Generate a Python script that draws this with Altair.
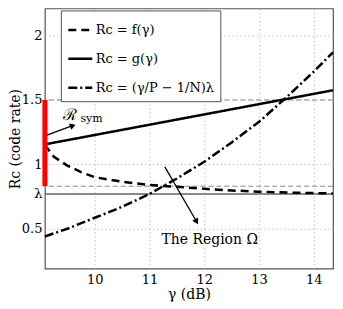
import altair as alt
import pandas as pd

# ---- data ----
series = ["Rc = f(γ)", "Rc = g(γ)", "Rc = (γ/P − 1/N)λ"]

gamma_f = [9.09, 9.25, 9.5, 9.75, 10.0, 10.5, 11.0, 11.5, 12.0, 12.5, 13.0, 13.5, 14.0, 14.35]
rc_f = [1.15, 1.06, 0.99, 0.94, 0.90, 0.865, 0.84, 0.825, 0.81, 0.797, 0.788, 0.781, 0.777, 0.774]

gamma_g = [9.09, 14.35]
rc_g = [1.155, 1.575]

gamma_h = [9.09, 9.5, 10.0, 10.5, 11.0, 11.5, 12.0, 12.5, 13.0, 13.5, 14.0, 14.35]
rc_h = [0.44, 0.50, 0.585, 0.67, 0.77, 0.89, 1.02, 1.17, 1.33, 1.52, 1.72, 1.87]

lam = 0.77
rsym_low = 0.83
rsym_high = 1.5

x_ticks = [10, 11, 12, 13, 14]
y_ticks = [0.5, lam, 1, 1.5, 2]

# annotations (data coordinates)
arrow_id = ["sym", "sym", "omega", "omega"]
arrow_x = [9.13, 9.58, 11.28, 11.84]
arrow_y = [1.226, 1.298, 0.98, 0.57]
head_x = [9.6, 11.86]
head_y = [1.30, 0.555]
head_angle = [69, 150]

FONT = "DejaVu Serif"

curves = pd.concat([
    pd.DataFrame({"gamma": gamma_f, "rc": rc_f, "series": series[0]}),
    pd.DataFrame({"gamma": gamma_g, "rc": rc_g, "series": series[1]}),
    pd.DataFrame({"gamma": gamma_h, "rc": rc_h, "series": series[2]}),
])

xs = alt.Scale(domain=[9.09, 14.35], nice=False, zero=False)
ys = alt.Scale(domain=[0.19, 2.21], nice=False, zero=False)

X = alt.X("gamma:Q", scale=xs, title="γ (dB)",
          axis=alt.Axis(values=x_ticks, format="d", grid=True, gridDash=[1, 3],
                        gridColor="#aaa", ticks=False, domain=False,
                        labelPadding=5, titlePadding=1))
Y = alt.Y("rc:Q", scale=ys, title="Rc (code rate)",
          axis=alt.Axis(values=y_ticks, grid=True, gridDash=[1, 3], gridColor="#aaa",
                        ticks=False, domain=False, labelPadding=3, titleX=-22,
                        titleBaseline="bottom",
                        labelExpr=f"datum.value == {lam} ? 'λ' : format(datum.value, '~g')"))

hlines = alt.Chart(pd.DataFrame({"rc": [rsym_high, rsym_low]})).mark_rule(
    color="#888", strokeDash=[5, 3], strokeWidth=1).encode(y=alt.Y("rc:Q", scale=ys))

lam_line = alt.Chart(pd.DataFrame({"rc": [lam]})).mark_rule(
    color="#666", strokeWidth=1.5).encode(y=alt.Y("rc:Q", scale=ys))

lines = alt.Chart(curves).mark_line(color="black", strokeWidth=2.5).encode(
    x=X, y=Y,
    strokeDash=alt.StrokeDash(
        "series:N",
        scale=alt.Scale(domain=series, range=[[8, 5], [1, 0], [9, 3, 2, 3]]),
        legend=alt.Legend(title=None, orient="none", legendX=16, legendY=2,
                          strokeColor="#555", fillColor="white", padding=6,
                          labelFont=FONT, labelFontSize=13, labelLimit=300,
                          symbolType="stroke", symbolSize=576, symbolStrokeWidth=2.5,
                          symbolStrokeColor="black", rowPadding=8, labelOffset=2),
    ),
)

red = alt.Chart(pd.DataFrame({"gamma": [9.09], "lo": [rsym_low], "hi": [rsym_high]})).mark_rule(
    color="red", strokeWidth=5).encode(
    x=alt.X("gamma:Q", scale=xs), y=alt.Y("lo:Q", scale=ys), y2="hi:Q")

shafts = alt.Chart(pd.DataFrame({"id": arrow_id, "gamma": arrow_x, "rc": arrow_y})).mark_line(
    color="black", strokeWidth=1.3).encode(
    x=alt.X("gamma:Q", scale=xs), y=alt.Y("rc:Q", scale=ys), detail="id:N")

heads = alt.Chart(pd.DataFrame({"gamma": head_x, "rc": head_y, "ang": head_angle})).mark_point(
    shape="triangle-up", filled=True, color="black", size=45, opacity=1).encode(
    x=alt.X("gamma:Q", scale=xs), y=alt.Y("rc:Q", scale=ys),
    angle=alt.Angle("ang:Q", scale=None))

txt_R = alt.Chart(pd.DataFrame({"gamma": [9.42], "rc": [1.385], "t": ["ℛ"]})).mark_text(
    font=FONT, fontSize=16, align="left", baseline="middle").encode(
    x=alt.X("gamma:Q", scale=xs), y=alt.Y("rc:Q", scale=ys), text="t:N")
txt_sym = alt.Chart(pd.DataFrame({"gamma": [9.74], "rc": [1.355], "t": ["sym"]})).mark_text(
    font=FONT, fontSize=11, align="left", baseline="middle").encode(
    x=alt.X("gamma:Q", scale=xs), y=alt.Y("rc:Q", scale=ys), text="t:N")
txt_omega = alt.Chart(pd.DataFrame({"gamma": [12.1], "rc": [0.41], "t": ["The Region Ω"]})).mark_text(
    font=FONT, fontSize=14, align="center", baseline="middle").encode(
    x=alt.X("gamma:Q", scale=xs), y=alt.Y("rc:Q", scale=ys), text="t:N")

chart = alt.layer(hlines, lam_line, lines, red, shafts, heads, txt_R, txt_sym, txt_omega).properties(
    width=289, height=261,
    autosize=alt.AutoSizeParams(type="none"),
    padding={"left": 37, "top": 0, "right": 2, "bottom": 40},
).configure_view(stroke="#555", strokeWidth=1.2).configure_axis(
    labelFont=FONT, labelFontSize=13, labelColor="black",
    titleFont=FONT, titleFontSize=14, titleFontWeight="normal", titleColor="black",
)

chart.save("out.html", embed_options={"renderer": "svg", "actions": False})
